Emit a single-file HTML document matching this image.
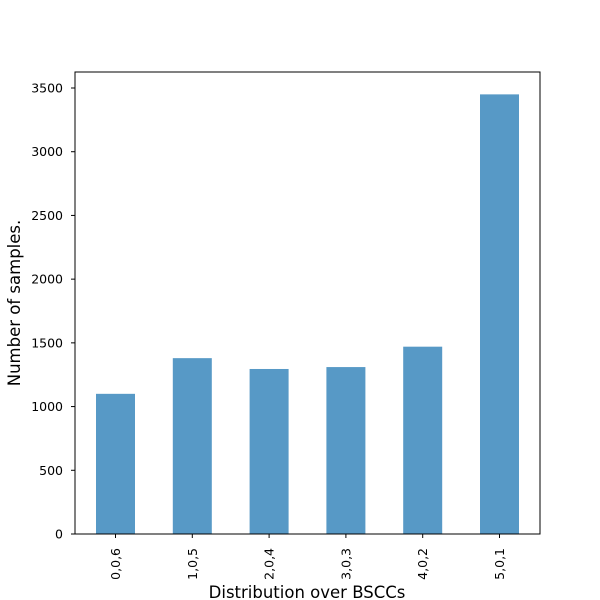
<!DOCTYPE html>
<html>
<head>
<meta charset="utf-8">
<style>
html,body{margin:0;padding:0;background:#fff;}
svg{display:block;font-family:"DejaVu Sans","Liberation Sans",sans-serif;}
</style>
</head>
<body>
<svg id="chart" width="600" height="600" viewBox="0 0 600 600">
<rect width="600" height="600" fill="#fff"/>
<g id="bars"></g>
<g id="yticks"></g>
<g id="xticks"></g>
<rect x="75" y="72" width="465" height="462" fill="none" stroke="#000" stroke-width="1"/>
<text x="307" y="598" font-size="16.5" text-anchor="middle">Distribution over BSCCs</text>
<text transform="translate(20,303) rotate(-90)" font-size="16.5" text-anchor="middle">Number of samples.</text>
</svg>
<script>
const categories = ["0,0,6","1,0,5","2,0,4","3,0,3","4,0,2","5,0,1"];
const values = [1100, 1380, 1295, 1310, 1470, 3450];
const yTicks = [0, 500, 1000, 1500, 2000, 2500, 3000, 3500];

const NS = "http://www.w3.org/2000/svg";
const left = 75, right = 540, bottom = 534;
const yTop = 88, yMaxVal = 3500;
function yScale(v){ return bottom - v * (bottom - yTop) / yMaxVal; }
const step = 76.8;
function xCenter(i){ return 115.5 + step * i; }
const barW = 39;

const bars = document.getElementById('bars');
const yg = document.getElementById('yticks');
const xg = document.getElementById('xticks');

values.forEach((v, i) => {
  const r = document.createElementNS(NS, 'rect');
  r.setAttribute('x', xCenter(i) - barW / 2);
  r.setAttribute('y', yScale(v));
  r.setAttribute('width', barW);
  r.setAttribute('height', bottom - yScale(v));
  r.setAttribute('fill', '#5799c6');
  
  
  bars.appendChild(r);
});

yTicks.forEach(t => {
  const y = yScale(t);
  const l = document.createElementNS(NS, 'line');
  l.setAttribute('x1', left - 4); l.setAttribute('x2', left);
  l.setAttribute('y1', y); l.setAttribute('y2', y);
  l.setAttribute('stroke', '#000');
  
  
  yg.appendChild(l);
  const tx = document.createElementNS(NS, 'text');
  tx.setAttribute('x', left - 12); tx.setAttribute('y', y + 4.5);
  tx.setAttribute('font-size', '12.5'); tx.setAttribute('text-anchor', 'end');
  tx.textContent = t;
  
  
  yg.appendChild(tx);
});

categories.forEach((c, i) => {
  const x = xCenter(i);
  const l = document.createElementNS(NS, 'line');
  l.setAttribute('x1', x); l.setAttribute('x2', x);
  l.setAttribute('y1', bottom); l.setAttribute('y2', bottom + 4);
  l.setAttribute('stroke', '#000');
  
  
  xg.appendChild(l);
  const tx = document.createElementNS(NS, 'text');
  tx.setAttribute('transform', 'translate(' + (x + 4.5) + ',' + (bottom + 14) + ') rotate(-90)');
  tx.setAttribute('font-size', '12.5'); tx.setAttribute('text-anchor', 'end');
  tx.textContent = c;
  
  
  xg.appendChild(tx);
});
</script>
</body>
</html>
